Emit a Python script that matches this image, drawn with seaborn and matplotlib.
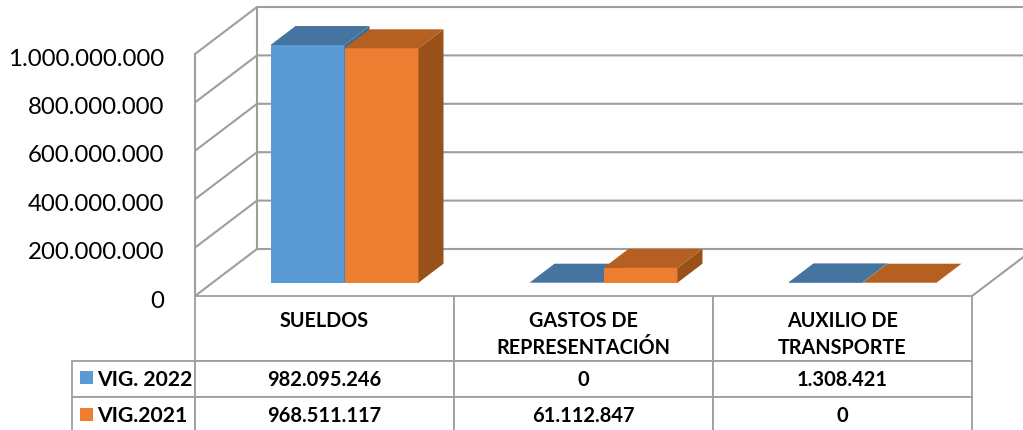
import pandas as pd
import numpy as np
import matplotlib
matplotlib.use("Agg")
import matplotlib.pyplot as plt
import seaborn as sns
from matplotlib.patches import Polygon, Rectangle
from matplotlib.table import Table
from matplotlib.ticker import FuncFormatter
from matplotlib.transforms import Affine2D, IdentityTransform

categories = ["SUELDOS", "GASTOS DE\nREPRESENTACIÓN", "AUXILIO DE\nTRANSPORTE"]
series_names = ["VIG. 2022", "VIG.2021"]
vig_2022 = [982095246, 0, 1308421]
vig_2021 = [968511117, 61112847, 0]
table_2022 = ["982.095.246", "0", "1.308.421"]
table_2021 = ["968.511.117", "61.112.847", "0"]
y_ticks = [0, 200000000, 400000000, 600000000, 800000000, 1000000000]

W, H = 1023, 431
GRID = "#9E9E9E"
FRONT = ["#5B9BD5", "#ED7D31"]
TOPS = ["#4674A0", "#B55F20"]
SIDES = ["#3F6A92", "#975119"]

sns.set_theme(style="white")
plt.rcParams["font.family"] = ["Lato", "DejaVu Sans"]

df = pd.DataFrame({
    "cat": categories * 2,
    "serie": [series_names[0]] * 3 + [series_names[1]] * 3,
    "valor": vig_2022 + vig_2021,
})

fig = plt.figure(figsize=(W / 100, H / 100), dpi=100)
ax = fig.add_axes([195 / W, 1 - 297 / H, (972 - 195) / W, (297 - 55) / H])

sns.barplot(data=df, x="cat", y="valor", hue="serie", palette=FRONT, saturation=1,
            width=148 / 259, gap=0, dodge=True, legend=False, ax=ax)
ax.set_xlim(-0.5, 2.5)
ax.set_ylim(0, 1000000000)
ax.set_xlabel("")
ax.set_ylabel("")
ax.set_xticks([])
ax.set_yticks(y_ticks)
ax.yaxis.set_major_formatter(FuncFormatter(lambda v, p: f"{v:,.0f}".replace(",", ".")))
ax.tick_params(axis="y", length=0, pad=22, labelsize=17.3, labelcolor="#000000")
sns.despine(ax=ax, left=True, bottom=True)
fig.canvas.draw()
for lab in ax.get_yticklabels():
    lab.set_transform(lab.get_transform() + Affine2D().translate(0, -2))

# walls and floor, everything in pixels from the data scale
to_px = ax.transData.transform
pix = IdentityTransform()
wall_dx, wall_dy = 62, 47


def line(xs, ys, lw=1.5):
    ax.plot(xs, ys, color=GRID, lw=lw, transform=pix, clip_on=False, zorder=2)


x0 = to_px((-0.5, 0))[0]
x1 = to_px((2.5, 0))[0]
for t in y_ticks:
    yy = to_px((0, t))[1]
    line([x0, x0 + wall_dx, x1 + wall_dx], [yy, yy + wall_dy, yy + wall_dy])
y_low = to_px((0, 0))[1]
y_high = to_px((0, y_ticks[-1]))[1]
line([x0, x0], [y_low, y_high])
line([x0 + wall_dx, x0 + wall_dx], [y_low + wall_dy, y_high + wall_dy])
line([x1, x1 + wall_dx], [y_low, y_low + wall_dy])

# bars sit inside the box, then get top and side faces
bar_dx, bar_dy = 20, 13.3
d_dx, d_dy = 25, 19
bars = list(ax.patches)
for i, b in enumerate(bars):
    s = i // 3
    z = 5 + s
    xa, ya = to_px((b.get_x(), 0))
    xb, yb = to_px((b.get_x() + b.get_width(), b.get_height()))
    xa, xb = xa + bar_dx, xb + bar_dx
    ya, yb = ya + bar_dy, yb + bar_dy
    b.set_transform(ax.transData + Affine2D().translate(bar_dx, bar_dy))
    b.set_clip_on(False)
    b.set_zorder(z)
    b.set_edgecolor("none")
    ax.add_patch(Polygon([(xb, ya), (xb + d_dx, ya + d_dy), (xb + d_dx, yb + d_dy), (xb, yb)], closed=True,
                         fc=SIDES[s], ec="none", transform=pix, clip_on=False, zorder=z))
    ax.add_patch(Polygon([(xa, yb), (xb, yb), (xb + d_dx, yb + d_dy), (xa + d_dx, yb + d_dy)], closed=True,
                         fc=TOPS[s], ec="none", transform=pix, clip_on=False, zorder=z))

# data table under the chart, built cell by cell in axes fractions
ax_w, ax_h = 972 - 195, 297 - 55
rows_h = [65 / ax_h, 36 / ax_h, 36 / ax_h]
col_w = 1 / 3
label_w = 123 / ax_w
tab = Table(ax, loc="bottom")
tab.auto_set_font_size(False)


def add(r, c, width, text, size, loc="center", shift=0):
    cell = tab.add_cell(r, c, width, rows_h[r], text=text, loc=loc)
    cell.set_edgecolor(GRID)
    cell.set_linewidth(1.3)
    txt = cell.get_text()
    txt.set_fontsize(size)
    txt.set_fontweight("bold")
    txt.set_color("#000000")
    if shift:
        txt.set_transform(Affine2D().translate(0, shift))
    return cell


for c, name in enumerate(categories):
    # one line headers stay on the upper line
    head = name if "\n" in name else name + "\n "
    add(0, c, col_w, head, 14.2, shift=-5).get_text().set_linespacing(1.4)
for r, (name, values) in enumerate(zip(series_names, [table_2022, table_2021]), start=1):
    add(r, -1, label_w, name, 15.2, loc="left").PAD = 25 / 123
    for c, val in enumerate(values):
        add(r, c, col_w, val, 14.5)
ax.add_table(tab)

for s, top in enumerate([372, 409]):
    fig.add_artist(Rectangle((80 / W, 1 - (top + 13) / H), 13 / W, 13 / H, fc=FRONT[s], ec="none",
                             transform=fig.transFigure, zorder=10))

fig.savefig("out.png", dpi=100)
